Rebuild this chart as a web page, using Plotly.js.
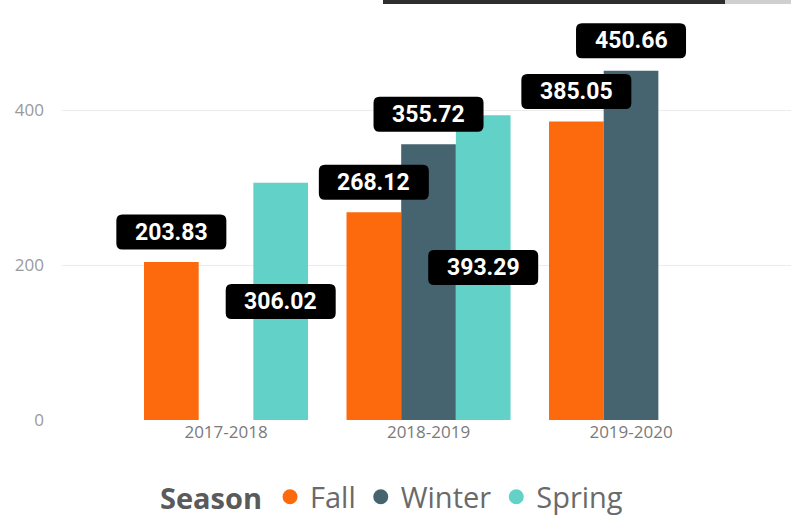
<!DOCTYPE html>
<html>
<head>
<meta charset="utf-8">
<script src="https://cdn.plot.ly/plotly-3.0.1.min.js"></script>
<style>html,body{margin:0;padding:0;background:#fff;}#chart{width:791px;height:528px;}</style>
</head>
<body>
<div id="chart"></div>
<script>
const categories = ['2017-2018', '2018-2019', '2019-2020'];
const seriesNames = ['Fall', 'Winter', 'Spring'];
const fallValues = [203.83, 268.12, 385.05];
const winterValues = [null, 355.72, 450.66];
const springValues = [306.02, 393.29, null];
const yTicks = [0, 200, 400];
const legendTitle = 'Season';

const seriesValues = [fallValues, winterValues, springValues];
const colors = ['#FD6A0E', '#46646F', '#62D1C8'];
// label placement per series/category: 'out' above the bar, 'in' centred inside
const placement = [
  ['out', 'out', 'out'],
  ['out', 'out', 'out'],
  ['in', 'in', 'out']
];

const bargap = 0.19;
const barW = (1 - bargap) / seriesNames.length;

const traces = [];
seriesNames.forEach((name, s) => {
  traces.push({
    type: 'bar', name: name, x: categories, y: seriesValues[s],
    marker: {color: colors[s]}, showlegend: false, hoverinfo: 'x+y+name'
  });
});
seriesNames.forEach((name, s) => {
  traces.push({
    type: 'scatter', mode: 'markers', name: name, x: [null], y: [null],
    marker: {color: colors[s], size: 15, symbol: 'circle'}, showlegend: true
  });
});

// rounded label box (pixel units, relative to anchor)
function roundedBox(cy, hw, hh, r) {
  const t = cy + hh, b = cy - hh;
  return `M ${-hw + r},${b} L ${hw - r},${b} Q ${hw},${b} ${hw},${b + r} ` +
         `L ${hw},${t - r} Q ${hw},${t} ${hw - r},${t} L ${-hw + r},${t} ` +
         `Q ${-hw},${t} ${-hw},${t - r} L ${-hw},${b + r} Q ${-hw},${b} ${-hw + r},${b} Z`;
}

const annotations = [];
const labelShapes = [];
seriesNames.forEach((name, s) => {
  seriesValues[s].forEach((v, i) => {
    if (v === null) return;
    const inside = placement[s][i] === 'in';
    const ax = i + (s - 1) * barW;
    const ay = inside ? v / 2 : v;
    const shift = inside ? 0 : 30;
    labelShapes.push({
      type: 'path', xref: 'x', yref: 'y', xsizemode: 'pixel', ysizemode: 'pixel',
      xanchor: ax, yanchor: ay, path: roundedBox(shift, 55, 17.5, 6),
      fillcolor: '#000000', line: {width: 0}, layer: 'above'
    });
    annotations.push({
      x: ax, y: ay, xref: 'x', yref: 'y', yshift: shift, showarrow: false,
      text: '<b>' + v.toFixed(2) + '</b>',
      font: {family: 'Roboto, DejaVu Sans', size: 23, color: '#ffffff'},
      xanchor: 'center', yanchor: 'middle'
    });
  });
});

const W = 791, ml = 62;
const px = p => (p - ml) / (W - ml);
const shapes = [
  {type: 'rect', xref: 'paper', yref: 'paper', x0: px(383), x1: px(725), y0: 1 - 4/420, y1: 1,
   fillcolor: '#2e2e2e', line: {width: 0}},
  {type: 'rect', xref: 'paper', yref: 'paper', x0: px(725), x1: px(791), y0: 1 - 4/420, y1: 1,
   fillcolor: '#cfcfcf', line: {width: 0}}
].concat(labelShapes);

const layout = {
  width: 791, height: 528,
  margin: {l: ml, r: 0, t: 0, b: 108},
  paper_bgcolor: '#ffffff', plot_bgcolor: '#ffffff',
  barmode: 'group', bargap: bargap, bargroupgap: 0,
  font: {family: 'Open Sans, Segoe UI, sans-serif'},
  xaxis: {
    type: 'category', range: [-0.81, 2.79], showgrid: false, zeroline: false,
    showline: false, ticks: '', tickfont: {size: 17, color: '#7a7a7a'}
  },
  yaxis: {
    range: [0, 542], tickvals: yTicks, showgrid: true, gridcolor: '#ececec',
    zeroline: false, showline: false, ticks: '', ticklabelstandoff: 17,
    tickfont: {size: 17, color: '#9a9a9a'}
  },
  legend: {
    orientation: 'h', x: 0.454, xanchor: 'center', y: -0.183, yanchor: 'middle',
    title: {text: '<b>' + legendTitle + '</b>', font: {size: 29, color: '#5a5a5a'}},
    font: {size: 29, color: '#6a6a6a'}, itemwidth: 30
  },
  annotations: annotations,
  shapes: shapes,
  showlegend: true
};

Plotly.newPlot('chart', traces, layout, {displayModeBar: false, staticPlot: true});
</script>
</body>
</html>
